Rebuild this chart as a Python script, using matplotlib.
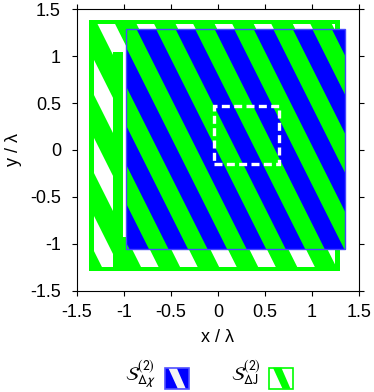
import numpy as np
import matplotlib
matplotlib.use("Agg")
import matplotlib.pyplot as plt
from matplotlib.patches import Rectangle, Polygon
from matplotlib.legend_handler import HandlerBase

plt.rcParams['font.family'] = ['Liberation Sans', 'DejaVu Sans']
plt.rcParams['mathtext.fontset'] = 'stixsans'

# regions (x / lambda, y / lambda)
chi_x = [-0.978, 1.357]      # S_dchi region (blue)
chi_y = [-1.051, 1.287]
dj_x = [-1.369, 1.297]       # S_dJ region (green hatched)
dj_y = [-1.290, 1.384]
col_x = [-1.116, -1.013]     # solid green column left of blue region
col_y = [-1.245, 1.050]
gap_x = [-1.013, -0.978]     # white gap strip
gap_y = [-0.928, 1.010]
roi_x = [-0.036, 0.650]      # dashed white box
roi_y = [-0.145, 0.469]

ticks = [-1.5, -1, -0.5, 0, 0.5, 1, 1.5]
tick_labels = ['-1.5', '-1', '-0.5', '0', '0.5', '1', '1.5']
leg_labels = [r'$\mathcal{S}^{(2)}_{\Delta\chi}$', r'$\mathcal{S}^{(2)}_{\Delta \mathrm{J}}$']

GREEN = '#00ff00'
BLUE = '#0000ff'
SLOPE = 2.0
PERIOD = 0.416


def rect(x, y, **kw):
    return Rectangle((x[0], y[0]), x[1] - x[0], y[1] - y[0], **kw)


def stripes(ax, clip, frac, phase, color, z):
    # stripes along x + y/SLOPE = c, clipped to a patch
    for c in np.arange(-5, 5, PERIOD) + phase:
        w = frac * PERIOD
        pts = [(c - 2 / SLOPE, 2), (c + w - 2 / SLOPE, 2),
               (c + w + 2 / SLOPE, -2), (c + 2 / SLOPE, -2)]
        p = Polygon(pts, closed=True, facecolor=color, edgecolor='none', zorder=z)
        ax.add_patch(p)
        p.set_clip_path(clip)


class StripeHandler(HandlerBase):
    def __init__(self, face, stripe, edge):
        super().__init__()
        self.face, self.stripe, self.edge = face, stripe, edge

    def create_artists(self, legend, orig_handle, xdescent, ydescent,
                       width, height, fontsize, trans):
        x0, y0 = -xdescent, -ydescent - 0.2 * height
        bg = Rectangle((x0, y0), width, height, facecolor=self.face,
                       edgecolor='none', transform=trans)
        pts = [(x0 + 0.15 * width, y0 + height), (x0 + 0.5 * width, y0 + height),
               (x0 + 0.88 * width, y0), (x0 + 0.55 * width, y0)]
        st = Polygon(pts, facecolor=self.stripe, edgecolor='none', transform=trans)
        bd = Rectangle((x0, y0), width, height, facecolor='none',
                       edgecolor=self.edge, lw=1.2, transform=trans)
        return [bg, st, bd]


fig = plt.figure(figsize=(3.74, 3.92), dpi=100)
ax = fig.add_axes([0.2059, 0.2584, 0.7532, 0.7179])

# green hatched region: solid green, white stripes inside a thin border
inset = 0.045
ax.add_patch(rect(dj_x, dj_y, facecolor=GREEN, edgecolor='none', zorder=1))
inner = rect([dj_x[0] + inset, dj_x[1] - inset], [dj_y[0] + inset, dj_y[1] - inset],
             transform=ax.transData)
stripes(ax, inner, 0.45, 0.23, 'white', 1.1)
ax.add_patch(rect(col_x, col_y, facecolor=GREEN, edgecolor='none', zorder=1.2))
ax.add_patch(rect(gap_x, gap_y, facecolor='white', edgecolor='none', zorder=1.3))
ax.add_patch(rect(chi_x, [chi_y[0] - 0.02, chi_y[0]], facecolor='white',
                  edgecolor='none', zorder=1.3))

# blue region with green stripes
blue = rect(chi_x, chi_y, facecolor=BLUE, edgecolor='none', zorder=2)
ax.add_patch(blue)
stripes(ax, blue, 0.5, 0.41, GREEN, 2.1)
ax.add_patch(rect(chi_x, chi_y, facecolor='none', edgecolor='#4646ff', lw=1.0, zorder=2.2))

# dashed box
ax.add_patch(rect(roi_x, roi_y, facecolor='none', edgecolor='white', lw=2.4,
                  linestyle=(0, (2.4, 1.3)), zorder=3))

ax.set_xlim(-1.5, 1.5)
ax.set_ylim(-1.5, 1.5)
ax.set_xticks(ticks)
ax.set_xticklabels(tick_labels)
ax.set_yticks(ticks)
ax.set_yticklabels(tick_labels)
ax.tick_params(direction='out', length=3.6, width=0.8, top=True, right=True,
               labelsize=13)
ax.tick_params(axis='x', pad=6)
ax.tick_params(axis='y', pad=8)
for s in ax.spines.values():
    s.set_linewidth(0.8)
ax.set_xlabel('x / λ', fontsize=13, labelpad=6)
ax.set_ylabel('y / λ', fontsize=13, labelpad=6)

h1 = Rectangle((0, 0), 1, 1)
h2 = Rectangle((0, 0), 1, 1)
fig.legend([h1, h2], leg_labels, loc='center', bbox_to_anchor=(0.56, 0.045),
           ncol=2, frameon=False, markerfirst=False, fontsize=14,
           handlelength=1.24, handleheight=1.29, handletextpad=0.41,
           columnspacing=2.2,
           handler_map={h1: StripeHandler(BLUE, '#f4f4f4', '#5050ff'),
                        h2: StripeHandler('white', GREEN, GREEN)})

fig.savefig('out.png', dpi=100)
